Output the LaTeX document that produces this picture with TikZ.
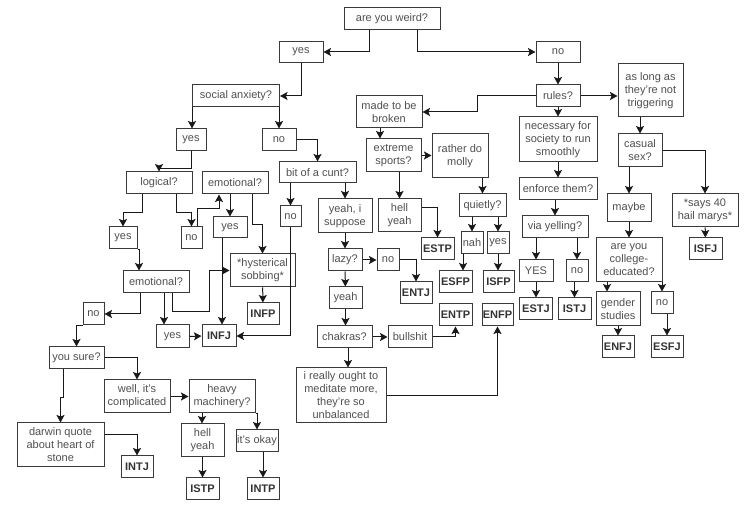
\documentclass[tikz,border=0pt]{standalone}
\usepackage{fontspec}
\setmainfont{Liberation Sans}
\usetikzlibrary{arrows.meta,calc}
\definecolor{txt}{HTML}{505050}
\definecolor{bd}{HTML}{3A3A3A}
\begin{document}
\begin{tikzpicture}[x=1pt,y=-1pt,
  box/.style={draw=bd,line width=1pt,align=center,inner sep=0pt,text=txt,
    font=\fontsize{11}{13}\selectfont},
  typ/.style={box,minimum width=33,minimum height=22,font=\fontsize{11}{13}\selectfont\bfseries,text=black!80},
  arr/.style={draw=black!90,line width=1pt,-{Stealth[length=7.5pt,width=8pt,inset=1.5pt]}}]
\useasboundingbox[fill=white] (0,0) rectangle (756,510);
% --- nodes ---
\node[box,minimum width=96,minimum height=22] (weird) at (392,19) {are you weird?};
\node[box,minimum width=44,minimum height=21] (yes1) at (301,52) {yes};
\node[box,minimum width=44,minimum height=21] (no1) at (558,52) {no};
\node[box,minimum width=87,minimum height=22] (social) at (236,96) {social anxiety?};
\node[box,minimum width=44,minimum height=22] (rules) at (558,96) {rules?};
\node[box,minimum width=66,minimum height=32] (broken) at (389,112) {made to be\\broken};
\node[box,minimum width=65,minimum height=53] (trig) at (650.5,90.5) {as long as\\they're not\\triggering};
\node[box,minimum width=78,minimum height=45] (necessary) at (558,139.5) {necessary for\\society to run\\smoothly};
\node[box,minimum width=78,minimum height=22] (enforce) at (558,189) {enforce them?};
\node[box,minimum width=66,minimum height=22] (yelling) at (555,227) {via yelling?};
\node[box,minimum width=34,minimum height=22] (YES) at (536,271) {YES};
\node[box,minimum width=22,minimum height=22] (noR) at (577,271) {no};
\node[typ] (ESTJ) at (536,309) {ESTJ};
\node[typ] (ISTJ) at (574.5,309) {ISTJ};
\node[box,minimum width=44,minimum height=33] (casual) at (640,150.5) {casual\\sex?};
\node[box,minimum width=66,minimum height=33] (hail) at (705,210.5) {*says 40\\hail marys*};
\node[typ] (ISFJ) at (705.5,249) {ISFJ};
\node[box,minimum width=44,minimum height=28] (maybe) at (629,208) {maybe};
\node[box,minimum width=66,minimum height=44] (college) at (629,260) {are you\\college-\\educated?};
\node[box,minimum width=44,minimum height=34] (gender) at (618,309) {gender\\studies};
\node[box,minimum width=22,minimum height=22] (noC) at (662,303) {no};
\node[typ,minimum width=32] (ENFJ) at (618,347) {ENFJ};
\node[typ,minimum width=32] (ESFJ) at (667,347) {ESFJ};
\node[box,minimum width=55,minimum height=33] (extreme) at (393.5,155.5) {extreme\\sports?};
\node[box,minimum width=56,minimum height=44] (molly) at (460,156) {rather do\\molly};
\node[box,minimum width=47,minimum height=23] (quietly) at (482.5,205.5) {quietly?};
\node[box,minimum width=22,minimum height=22] (nah) at (472,243) {nah};
\node[box,minimum width=22,minimum height=22] (yesQ) at (498,243) {yes};
\node[typ] (ESFP) at (455.5,282) {ESFP};
\node[typ,minimum width=31] (ISFP) at (498.5,282) {ISFP};
\node[box,minimum width=43,minimum height=33] (hellyeahA) at (399.5,215.5) {hell\\yeah};
\node[typ] (ESTP) at (437.5,249) {ESTP};
\node[box,minimum width=34,minimum height=22] (noS) at (279,140) {no};
\node[box,minimum width=30,minimum height=22] (yesS) at (191,140) {yes};
\node[box,minimum width=77,minimum height=21] (cunt) at (317.5,172.5) {bit of a cunt?};
\node[box,minimum width=66,minimum height=22] (logical) at (159,183) {logical?};
\node[box,minimum width=66,minimum height=22] (emoA) at (235,183) {emotional?};
\node[box,minimum width=28,minimum height=22] (yesL) at (123,238) {yes};
\node[box,minimum width=21,minimum height=22] (noL) at (191.5,238) {no};
\node[box,minimum width=34,minimum height=21] (yesE) at (230,227.5) {yes};
\node[box,minimum width=65,minimum height=33] (hyst) at (262.5,270.5) {*hysterical\\sobbing*};
\node[typ,minimum width=34] (INFJ) at (219,336) {INFJ};
\node[box,minimum width=66,minimum height=22] (emoB) at (156,282) {emotional?};
\node[box,minimum width=21,minimum height=22] (noE) at (93.5,314) {no};
\node[box,minimum width=33,minimum height=23] (yesB) at (172.5,336.5) {yes};
\node[box,minimum width=21,minimum height=21] (noK) at (290.5,216.5) {no};
\node[typ,minimum width=32] (INFP) at (263,314) {INFP};
\node[box,minimum width=54,minimum height=34] (suppose) at (345,216) {yeah, i\\suppose};
\node[box,minimum width=34,minimum height=22] (lazy) at (345,260) {lazy?};
\node[box,minimum width=22,minimum height=22] (noZ) at (388,260) {no};
\node[typ,minimum width=32] (ENTJ) at (416,293) {ENTJ};
\node[box,minimum width=33,minimum height=22] (yeah) at (345.5,298) {yeah};
\node[box,minimum width=55,minimum height=22] (chakras) at (344.5,337) {chakras?};
\node[box,minimum width=44,minimum height=22] (bullshit) at (410,337) {bullshit};
\node[typ] (ENTP) at (455.5,315) {ENTP};
\node[box,minimum width=90,minimum height=55] (ought) at (341,395.5) {i really ought to\\meditate more,\\they're so\\unbalanced};
\node[typ,minimum width=31] (ENFP) at (497.5,315) {ENFP};
\node[box,minimum width=55,minimum height=22] (sure) at (76.5,358) {you sure?};
\node[box,minimum width=66,minimum height=33] (complicated) at (137,396.5) {well, it's\\complicated};
\node[box,minimum width=66,minimum height=33] (heavy) at (222,396.5) {heavy\\machinery?};
\node[box,minimum width=43,minimum height=33] (hellyeahB) at (202.5,440.5) {hell\\yeah};
\node[box,minimum width=42,minimum height=22] (okay) at (257,441) {it's okay};
\node[typ] (ISTP) at (202.5,489) {ISTP};
\node[typ,minimum width=32] (INTP) at (263,489) {INTP};
\node[box,minimum width=87,minimum height=44] (darwin) at (60.5,445) {darwin quote\\about heart of\\stone};
\node[typ,minimum width=32] (INTJ) at (137,467) {INTJ};
% --- connectors ---
\draw[arr] ([xshift=-23]weird.south) |- (yes1.east);
\draw[arr] ([xshift=25]weird.south) |- (no1.west);
\draw[arr] (yes1.south) |- (social.east);
\draw[arr] (no1) -- (rules);
\draw[arr] (rules.west) -- ++(-58,0) |- (broken.east);
\draw[arr] (rules.east) -- (rules.east -| trig.west);
\draw[arr] (rules) -- (necessary);
\draw[arr] (necessary) -- (enforce);
\draw[arr] (yelling.north |- enforce.south) -- (yelling.north);
\draw[arr] (YES.north |- yelling.south) -- (YES.north);
\draw[arr] (noR.north |- yelling.south) -- (noR.north);
\draw[arr] (YES) -- (ESTJ);
\draw[arr] (ISTJ.north |- noR.south) -- (ISTJ.north);
\draw[arr] (casual.north |- trig.south) -- (casual.north);
\draw[arr] (casual.east) -| (hail.north);
\draw[arr] (hail) -- (ISFJ);
\draw[arr] (maybe.north |- casual.south) -- (maybe.north);
\draw[arr] (maybe) -- (college);
\draw[arr] ([xshift=-11]gender.north |- college.south) -- ([xshift=-11]gender.north);
\draw[arr] (noC.north |- college.south) -- (noC.north);
\draw[arr] (gender) -- (ENFJ);
\draw[arr] (ESFJ.north |- noC.south) -- (ESFJ.north);
\draw[arr] ([xshift=-9]broken.south) -- ([xshift=-9]broken.south |- extreme.north);
\draw[arr] (extreme.east) -- (extreme.east -| molly.west);
\draw[arr] (quietly.north |- molly.south) -- (quietly.north);
\draw[arr] (nah.north |- quietly.south) -- (nah.north);
\draw[arr] (yesQ.north |- quietly.south) -- (yesQ.north);
\draw[arr] ([xshift=-9]nah.south) -- ([xshift=-9]nah.south |- ESFP.north);
\draw[arr] (yesQ.south) -- (yesQ.south |- ISFP.north);
\draw[arr] (hellyeahA.north |- extreme.south) -- (hellyeahA.north);
\draw[arr] ([yshift=7.5]hellyeahA.east) -| (ESTP.north);
\draw[arr] (noS.north |- social.south) -- (noS.north);
\draw[arr] (social.south west) -- (social.south west |- yesS.north);
\draw[arr] (noS.east) -| (cunt.north);
\draw[arr] (yesS.south) -- ++(0,17) -| (logical.north);
\draw[arr] ([xshift=-17]logical.south) -- ++(0,18) -| (yesL.north);
\draw[arr] ([xshift=17]logical.south) -- ++(0,18) -| (noL.north);
\draw[arr] ([xshift=5.5]noL.north) -- ++(0,-18) -| ([xshift=-16]emoA.south);
\draw[arr] (yesE.north |- emoA.south) -- (yesE.north);
\draw[arr] ([xshift=17]emoA.south) -- ++(0,30) -| (hyst.north);
\draw[arr] ([xshift=-8]yesE.south) -- ([xshift=-8]yesE.south |- INFJ.north);
\draw[arr] (yesL.south east) -| ([xshift=-17]emoB.north);
\draw[arr] ([xshift=-16]emoB.south) |- (noE.east);
\draw[arr] ([xshift=8]emoB.south) -- ([xshift=8]emoB.south |- yesB.north);
\draw[arr] ([xshift=16]emoB.south) -- ++(0,18) -- ++(37,0) |- (hyst.west);
\draw[arr] (yesB.east) -- (INFJ.west);
\draw[arr] (noK.south) |- (INFJ.east);
\draw[arr] (noK.north |- cunt.south) -- (noK.north);
\draw[arr] (suppose.north |- cunt.south) -- (suppose.north);
\draw[arr] (hyst) -- (INFP);
\draw[arr] (suppose) -- (lazy);
\draw[arr] (lazy) -- (yeah);
\draw[arr] (yeah) -- (chakras.north -| yeah.south);
\draw[arr] (lazy) -- (noZ);
\draw[arr] (noZ.east) -| (ENTJ.north);
\draw[arr] (chakras) -- (bullshit);
\draw[arr] (bullshit.east) -| (ENTP.south);
\draw[arr] ([xshift=3.5]chakras.south) -- ([xshift=3.5]chakras.south |- ought.north);
\draw[arr] (ought.east) -| (ENFP.south);
\draw[arr] (noE.south west) -| (sure.north);
\draw[arr] (sure.east) -| (complicated.north);
\draw[arr] (complicated) -- (heavy);
\draw[arr] ([xshift=-20]heavy.south) -- ([xshift=-20]heavy.south |- hellyeahB.north);
\draw[arr] (heavy.south east) -| (okay.north);
\draw[arr] (hellyeahB) -- (ISTP);
\draw[arr] (INTP.north |- okay.south) -- (INTP.north);
\draw[arr] ([xshift=-13.5]sure.south) -- ++(0,28) -| (darwin.north);
\draw[arr] ([yshift=10]darwin.east) -| (INTJ.north);
\end{tikzpicture}
\end{document}
